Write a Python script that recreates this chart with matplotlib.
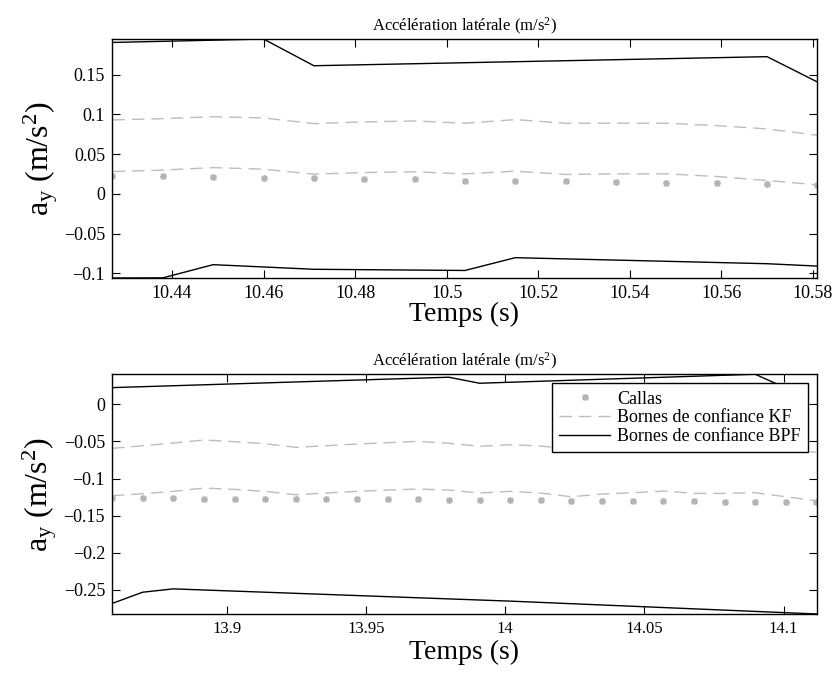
import numpy as np
import matplotlib
matplotlib.use('Agg')
import matplotlib.pyplot as plt

plt.rcParams['font.family'] = ['Liberation Serif', 'DejaVu Serif']
plt.rcParams['mathtext.fontset'] = 'custom'
plt.rcParams['mathtext.rm'] = 'Liberation Serif'
plt.rcParams['mathtext.it'] = 'Liberation Serif:italic'

# ---- upper panel data (t ~ 10.43 - 10.58 s)
t1 = [10.427, 10.438, 10.449, 10.460, 10.471, 10.482, 10.493, 10.504,
      10.515, 10.526, 10.537, 10.548, 10.559, 10.570, 10.581]
callas1 = [0.0230, 0.0222, 0.0210, 0.0205, 0.0197, 0.0188, 0.0184, 0.0167,
           0.0163, 0.0155, 0.0147, 0.0138, 0.0130, 0.0122, 0.0113]
kf1_up = [0.0930, 0.0946, 0.0970, 0.0955, 0.0883, 0.0905, 0.0917, 0.0888,
          0.0934, 0.0888, 0.0888, 0.0888, 0.0858, 0.0817, 0.0737]
kf1_lo = [0.0280, 0.0298, 0.0330, 0.0310, 0.0247, 0.0268, 0.0276, 0.0251,
          0.0285, 0.0243, 0.0251, 0.0251, 0.0218, 0.0167, 0.0113]
bpf1_t_up = [10.427, 10.460, 10.471, 10.570, 10.581]
bpf1_up = [0.1905, 0.1948, 0.1612, 0.1726, 0.1407]
bpf1_t_lo = [10.427, 10.438, 10.449, 10.471, 10.504, 10.515, 10.570, 10.581]
bpf1_lo = [-0.1060, -0.1058, -0.0892, -0.0950, -0.0965, -0.0804, -0.0880, -0.0910]
xticks1 = [10.44, 10.46, 10.48, 10.5, 10.52, 10.54, 10.56, 10.58]
xlabels1 = ['10.44', '10.46', '10.48', '10.5', '10.52', '10.54', '10.56', '10.58']
yticks1 = [-0.1, -0.05, 0, 0.05, 0.1, 0.15]
ylabels1 = ['\u22120.1', '\u22120.05', '0', '0.05', '0.1', '0.15']

# ---- lower panel data (t ~ 13.86 - 14.11 s)
t2 = [13.8588, 13.8698, 13.8808, 13.8918, 13.9028, 13.9138, 13.9248, 13.9358,
      13.9468, 13.9578, 13.9688, 13.9798, 13.9908, 14.0018, 14.0128, 14.0238,
      14.0348, 14.0458, 14.0568, 14.0678, 14.0788, 14.0898, 14.1008, 14.1118]
callas2 = [-0.1263, -0.1267, -0.1267, -0.1272, -0.1272, -0.1272, -0.1276, -0.1276,
           -0.1281, -0.1281, -0.1281, -0.1290, -0.1290, -0.1290, -0.1294, -0.1299,
           -0.1303, -0.1303, -0.1308, -0.1308, -0.1312, -0.1317, -0.1320, -0.1317]
kf2_up = [-0.0594, -0.0558, -0.0522, -0.0481, -0.0504, -0.0531, -0.0580, -0.0558,
          -0.0535, -0.0517, -0.0499, -0.0526, -0.0566, -0.0544, -0.0562, -0.0605,
          -0.0569, -0.0551, -0.0528, -0.0560, -0.0560, -0.0551, -0.0605, -0.0647]
kf2_lo = [-0.1231, -0.1204, -0.1172, -0.1128, -0.1146, -0.1172, -0.1218, -0.1195,
          -0.1172, -0.1155, -0.1141, -0.1155, -0.1195, -0.1172, -0.1195, -0.1245,
          -0.1209, -0.1191, -0.1168, -0.1200, -0.1200, -0.1191, -0.1245, -0.1299]
bpf2_t_up = [13.8588, 13.9798, 13.9908, 14.0898, 14.1008]
bpf2_up = [0.0224, 0.0364, 0.0283, 0.0404, 0.0220]
bpf2_t_lo = [13.8588, 13.8698, 13.8808, 14.0018, 14.1118]
bpf2_lo = [-0.2682, -0.2530, -0.2485, -0.2650, -0.2823]
xticks2 = [13.9, 13.95, 14.0, 14.05, 14.1]
xlabels2 = ['13.9', '13.95', '14', '14.05', '14.1']
yticks2 = [-0.25, -0.2, -0.15, -0.1, -0.05, 0]
ylabels2 = ['\u22120.25', '\u22120.2', '\u22120.15', '\u22120.1', '\u22120.05', '0']

grey_pts = '#b4b4b4'
grey_kf = '#bdbdbd'

fig = plt.figure(figsize=(8.37, 6.73), dpi=100)
ax1 = fig.add_axes([0.1338, 0.5869, 0.8423, 0.3551])
ax2 = fig.add_axes([0.1338, 0.0877, 0.8423, 0.3562])


def draw(ax, t, callas, kf_up, kf_lo, tb_up, b_up, tb_lo, b_lo):
    ax.plot(t, callas, ls='none', marker=(8, 2, 0), ms=5, mew=1,
            color=grey_pts, label='Callas')
    ax.plot(t, kf_up, color=grey_kf, lw=1, dashes=(9, 5),
            label='Bornes de confiance KF')
    ax.plot(t, kf_lo, color=grey_kf, lw=1, dashes=(9, 5))
    ax.plot(tb_up, b_up, color='black', lw=1,
            label='Bornes de confiance BPF')
    ax.plot(tb_lo, b_lo, color='black', lw=1)


draw(ax1, t1, callas1, kf1_up, kf1_lo, bpf1_t_up, bpf1_up, bpf1_t_lo, bpf1_lo)
draw(ax2, t2, callas2, kf2_up, kf2_lo, bpf2_t_up, bpf2_up, bpf2_t_lo, bpf2_lo)

ax1.set_xlim(10.4269, 10.5809)
ax1.set_ylim(-0.106, 0.1948)
ax1.set_xticks(xticks1)
ax1.set_xticklabels(xlabels1)
ax1.set_yticks(yticks1)
ax1.set_yticklabels(ylabels1)

ax2.set_xlim(13.8588, 14.112)
ax2.set_ylim(-0.2823, 0.0404)
ax2.set_xticks(xticks2)
ax2.set_xticklabels(xlabels2)
ax2.set_yticks(yticks2)
ax2.set_yticklabels(ylabels2)

for ax in (ax1, ax2):
    ax.tick_params(direction='in', top=True, right=True, length=6, width=0.8,
                   labelsize=13, pad=5)
    for s in ax.spines.values():
        s.set_linewidth(1.0)
    ax.set_title('Accélération latérale (m/s$^2$)', fontsize=12, pad=6)
    ax.set_ylabel(r'a$_\mathrm{y}$ (m/s$^2$)', fontsize=23, labelpad=3)

ax1.set_xlabel('Temps (s)', fontsize=20, labelpad=0)
ax2.set_xlabel('Temps (s)', fontsize=20, labelpad=2)
ax2.tick_params(axis='x', labelsize=12)

leg = ax2.legend(loc='upper right', fontsize=13, frameon=True, fancybox=False,
                 edgecolor='black', framealpha=1, numpoints=1,
                 handlelength=2.8, handletextpad=0.4, labelspacing=0.1,
                 borderpad=0.4, borderaxespad=0.5)
leg.get_frame().set_linewidth(1.0)

fig.savefig('out.png', dpi=100)
